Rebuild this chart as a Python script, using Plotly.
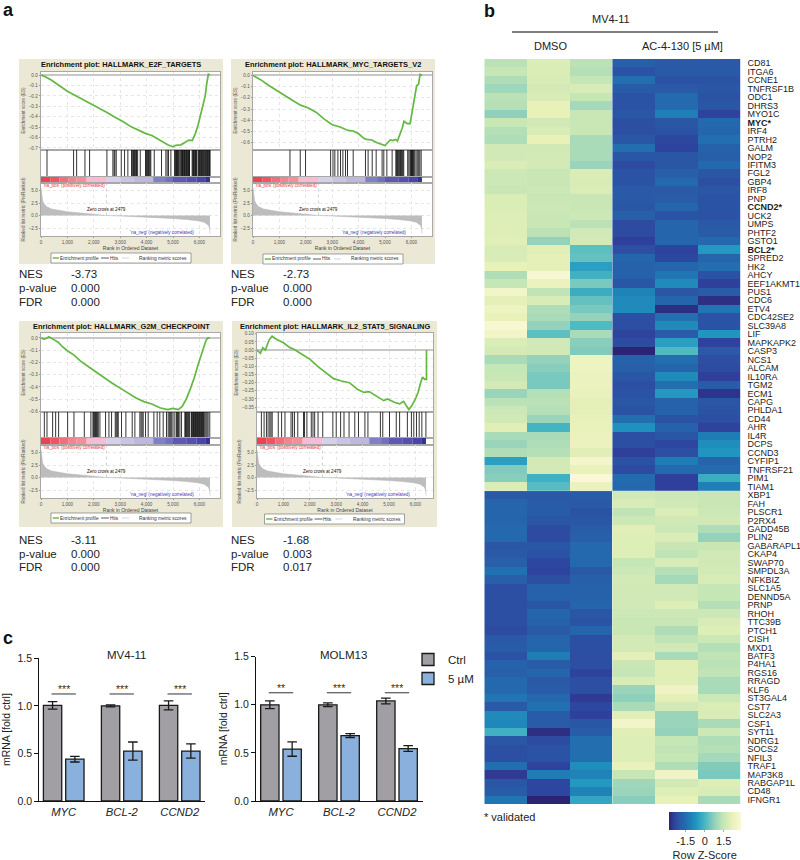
import plotly.graph_objects as go

W, H = 800, 860
FONT = "Liberation Sans"

# ---------- GSEA data ----------
ES_E2F_RANK = [0,200,400,700,1000,1300,1700,2100,2500,2800,3100,3400,3700,3950,4200,4500,4800,5000,5100,5300,5500,5600,5730,5850,5950,6050,6150,6220,6280,6340,6400]
ES_E2F = [0,-0.02,-0.05,-0.10,-0.155,-0.195,-0.25,-0.30,-0.36,-0.405,-0.445,-0.495,-0.53,-0.56,-0.58,-0.625,-0.67,-0.69,-0.675,-0.67,-0.635,-0.625,-0.63,-0.56,-0.48,-0.38,-0.28,-0.2,-0.08,0.01,0.0]
ES_MYC_RANK = [0,300,600,1000,1400,1550,1800,2100,2400,2700,3000,3300,3600,3800,4000,4200,4300,4500,4700,5000,5100,5200,5300,5400,5470,5550,5650,5720,5850,5950,6050,6100,6200,6270,6330,6400]
ES_MYC = [0,-0.04,-0.09,-0.15,-0.215,-0.23,-0.265,-0.29,-0.33,-0.39,-0.44,-0.46,-0.49,-0.495,-0.52,-0.56,-0.57,-0.575,-0.60,-0.625,-0.60,-0.575,-0.58,-0.57,-0.585,-0.54,-0.47,-0.41,-0.43,-0.43,-0.3,-0.2,-0.09,-0.08,0.01,0]
ES_G2M_RANK = [0,100,200,300,450,650,800,1000,1250,1500,1800,2100,2400,2700,3000,3300,3600,3900,4200,4500,4800,5000,5200,5350,5500,5650,5800,5950,6100,6250,6320,6400]
ES_G2M = [0,-0.01,-0.005,0.01,-0.01,-0.035,-0.07,-0.105,-0.14,-0.19,-0.235,-0.28,-0.33,-0.37,-0.41,-0.45,-0.49,-0.52,-0.54,-0.57,-0.585,-0.575,-0.585,-0.56,-0.5,-0.42,-0.33,-0.22,-0.12,-0.02,0,0]
ES_IL2_RANK = [0,130,220,320,450,570,700,850,1000,1250,1400,1700,2000,2300,2600,2900,3200,3500,3800,4050,4250,4500,4800,4950,5200,5400,5550,5750,5850,6000,6100,6200,6270,6350,6420,6421]
ES_IL2 = [0,-0.02,0.015,0.0,0.06,0.085,0.07,0.06,0.045,0.015,0.005,-0.025,-0.055,-0.10,-0.14,-0.175,-0.19,-0.20,-0.24,-0.26,-0.255,-0.28,-0.31,-0.30,-0.32,-0.33,-0.315,-0.365,-0.345,-0.30,-0.26,-0.2,-0.165,-0.18,-0.18,0.0]

HITS_E2F = [227,1235,1350,1665,1840,2497,2723,2770,2800,2850,3040,3165,3290,3430,3455,3490,3510,3545,3570,3600,3620,3660,3760,3960,3985,4010,4040,4070,4100,4130,4160,4290,4565,4730,4780,4830,4920,5060,5085,5110,5135,5160,5180,5205,5240,5290,5315,5340,5360,5385,5410,5435,5460,5485,5510,5535,5560,5585,5610,5625,5725,5750,5775,5800,5825,5850,5875,5895,5950,5975,6000,6025,6050,6075,6100,6125,6150,6180,6205,6235,6260,6285,6310,6335,6360,6385,6405]
HITS_MYC = [1400,1790,1990,2940,3030,3100,3215,3315,3405,3505,3580,3795,4260,4360,4515,4665,4890,4955,5070,5270,5410,5440,5470,5500,5530,5560,5590,5620,5650,5680,5710,5860,5905,5950,5975,6000,6020,6045,6070,6095,6130,6180,6240,6280,6320,6370]
HITS_G2M = [126,227,441,555,668,1009,1248,1640,1890,1967,1995,2030,2065,2100,2135,2170,2232,2446,2573,2673,2812,2850,2890,2926,3050,3215,3455,3556,3745,3790,3830,3871,3960,4060,4275,4400,4500,4628,4754,4817,4860,4900,4950,5000,5070,5132,5170,5210,5260,5320,5448,5475,5510,5545,5580,5610,5637,5700,5725,5750,5775,5800,5825,5850,5875,5900,5925,5950,5975,6000,6025,6050,6075,6100,6125,6150,6175,6210,6250,6290,6330,6393]
HITS_IL2 = [166,268,358,420,485,530,575,805,932,1060,1290,1350,1418,1545,1762,1800,1890,2056,2120,2184,2312,2490,2874,3001,3167,3295,3487,3704,3844,4087,4202,4674,4764,5019,5275,5402,5696,5849,5939,6041,6143,6245,6398]

METRIC_RANK = [0,15,30,60,100,200,400,700,1000,1500,2000,2479,3000,4000,5000,5500,6000,6200,6350,6395,6400]
METRIC = [5.6,4.6,3.8,3.0,2.5,1.8,1.3,1.0,0.75,0.5,0.25,0,-0.1,-0.3,-0.6,-0.8,-1.1,-1.4,-2.0,-2.8,-3.6]
ZERO_CROSS = 2479
BAND_EDGES = [0,350,700,1050,1350,1730,2490,3000,3500,4250,4700,5000,5500,5900,6220,6400]
BAND_COLORS = ["#ec4352","#ee5562","#ef707c","#f1858d","#f38f97","#f5bcd4","#d5d1ea","#c9c4e4","#bfb8de","#8080c6","#7270bd","#5e58b3","#5550ae","#4a44a8","#332f9c"]

# ---------- heatmap data ----------
GENES = ["CD81","ITGA6","CCNE1","TNFRSF1B","ODC1","DHRS3","MYO1C","MYC*","IRF4","PTRH2","GALM","NOP2","IFITM3","FGL2","GBP4","IRF8","PNP","CCND2*","UCK2","UMPS","PHTF2","GSTO1","BCL2*","SPRED2","HK2","AHCY","EEF1AKMT1","PUS1","CDC6","ETV4","CDC42SE2","SLC39A8","LIF","MAPKAPK2","CASP3","NCS1","ALCAM","IL10RA","TGM2","ECM1","CAPG","PHLDA1","CD44","AHR","IL4R","DCPS","CCND3","CYFIP1","TNFRSF21","PIM1","TIAM1","XBP1","FAH","PLSCR1","P2RX4","GADD45B","PLIN2","GABARAPL1","CKAP4","SWAP70","SMPDL3A","NFKBIZ","SLC1A5","DENND5A","PRNP","RHOH","TTC39B","PTCH1","CISH","MXD1","BATF3","P4HA1","RGS16","RRAGD","KLF6","ST3GAL4","CST7","SLC2A3","CSF1","SYT11","NDRG1","SOCS2","NFIL3","TRAF1","MAP3K8","RABGAP1L","CD48","IFNGR1"]
BOLD_GENES = ["MYC*","CCND2*","BCL2*"]
SAMPLES = ["DMSO 1","DMSO 2","DMSO 3","AC-4-130 1","AC-4-130 2","AC-4-130 3"]
ROW_VALUES = [
[0.9,1.3,0.9,-1.3,-1.4,-1.4],[1.0,1.3,0.85,-1.5,-1.4,-1.4],[0.8,1.25,1.0,-1.05,-1.5,-1.5],[0.65,1.2,1.25,-1.35,-1.4,-1.45],
[0.9,1.25,1.0,-1.5,-1.1,-1.5],[0.85,1.5,0.7,-1.5,-1.1,-1.45],[0.5,1.5,1.05,-1.45,-0.8,-1.7],[1.05,1.15,1.05,-1.55,-1.45,-1.15],
[0.85,1.25,1.05,-1.55,-1.5,-1.2],[0.8,1.5,0.75,-1.45,-1.65,-1.05],[1.15,1.15,0.75,-1.05,-1.7,-1.25],[1.15,1.2,0.75,-1.45,-1.45,-1.3],
[1.3,1.2,0.6,-1.6,-1.45,-1.15],[1.1,1.05,1.3,-1.5,-1.3,-1.45],[1.1,1.05,1.25,-1.5,-1.15,-1.55],[1.05,1.1,1.3,-1.4,-1.4,-1.45],
[1.3,1.05,1.05,-1.4,-1.35,-1.5],[1.3,1.1,1.05,-1.45,-1.2,-1.5],[1.35,1.05,1.1,-1.3,-1.5,-1.5],[1.35,1.05,0.9,-1.6,-1.2,-1.4],
[1.35,0.9,1.15,-1.6,-1.2,-1.35],[1.4,0.55,1.2,-1.75,-1.2,-1.15],[1.25,1.4,0.15,-1.55,-1.7,-0.45],[1.25,1.45,0.2,-1.2,-1.65,-1.2],
[1.5,1.45,-0.35,-1.25,-1.2,-1.05],[0.8,1.9,-0.1,-1.25,-0.95,-1.5],[1.0,1.6,0.35,-1.45,-0.65,-1.75],[1.75,0.95,-0.15,-0.75,-1.45,-1.35],
[1.45,1.25,0.2,-0.65,-1.2,-1.9],[1.65,0.8,0.35,-0.65,-1.9,-0.95],[1.5,0.75,0.55,-1.55,-1.0,-1.5],[1.9,0.55,0.05,-1.55,-0.65,-1.5],
[1.75,0.15,0.75,-1.7,-1.35,-0.5],[1.3,1.15,0.45,-1.6,-0.35,-1.7],[1.2,1.15,0.4,-2.0,0.05,-1.4],[0.75,0.55,1.65,-1.25,-1.05,-1.55],
[1.0,0.45,1.65,-1.3,-1.2,-1.6],[1.05,0.35,1.6,-1.45,-0.65,-1.75],[1.2,0.35,1.6,-1.55,-1.05,-1.35],[0.6,0.85,1.55,-1.5,-0.45,-1.85],
[0.9,0.9,1.45,-1.45,-1.25,-1.45],[1.1,0.85,1.45,-1.5,-1.25,-1.5],[1.15,0.6,1.5,-1.05,-1.5,-1.55],[1.4,-0.05,1.55,-0.55,-1.25,-1.7],
[0.75,0.75,1.6,-1.55,-1.45,-0.85],[0.6,0.8,1.6,-1.55,-1.65,-0.6],[0.8,0.85,1.4,-1.75,-1.55,-0.5],[-0.35,1.2,1.8,-1.5,-0.85,-1.2],
[0.4,1.2,1.55,-1.6,-1.15,-1.1],[0.45,-0.1,2.0,-1.1,-1.75,-0.15],[1.3,0.1,1.6,-1.15,-1.75,-0.8],
[-1.4,-1.4,-1.35,1.15,1.1,1.05],[-1.2,-1.35,-1.4,1.25,1.15,1.05],[-1.2,-1.35,-1.5,0.95,1.3,1.1],[-1.2,-1.45,-1.45,1.1,1.15,1.15],
[-1.15,-1.6,-1.35,1.4,1.1,0.8],[-1.15,-1.6,-1.3,1.35,1.3,0.55],[-1.45,-1.45,-1.15,1.35,1.05,1.05],[-1.4,-1.5,-1.15,1.35,0.95,1.15],
[-1.3,-1.65,-1.15,1.0,1.25,1.15],[-1.0,-1.7,-1.4,1.1,0.85,1.2],[-1.3,-1.55,-1.3,1.2,0.7,1.25],[-1.55,-1.25,-1.25,1.15,1.15,1.0],
[-1.55,-1.25,-1.25,1.15,1.15,1.0],[-1.55,-1.45,-1.2,1.15,1.35,0.85],[-1.55,-1.2,-1.45,1.1,1.1,1.1],[-1.55,-1.25,-1.5,1.05,1.05,1.25],
[-1.6,-1.4,-1.2,1.05,0.8,1.35],[-1.4,-1.2,-1.55,1.2,0.95,1.1],[-1.35,-1.2,-1.55,1.2,1.15,0.85],[-1.5,-0.85,-1.55,1.45,0.75,0.95],
[-1.25,-1.35,-1.55,1.05,1.4,0.9],[-1.3,-1.2,-1.7,1.0,1.4,0.95],[-1.15,-1.4,-1.55,1.25,1.4,0.75],[-1.15,-1.35,-1.55,0.6,1.7,0.75],
[-0.95,-1.15,-1.8,0.5,1.45,1.1],[-1.4,-1.0,-1.65,0.75,1.2,1.3],[-0.65,-1.35,-1.75,1.4,0.6,1.25],[-0.7,-1.35,-1.45,1.75,0.6,0.75],
[-0.1,-1.9,-1.35,1.4,0.55,1.1],[-1.45,-1.6,-1.05,1.35,1.0,0.8],[-1.55,-1.5,-1.05,1.35,0.95,0.85],[-1.55,-1.5,-1.05,1.35,1.0,0.7],
[-1.05,-1.7,-0.6,1.55,0.8,0.4],[-1.8,-0.85,-0.75,1.0,1.7,0.35],[-1.45,-1.65,-0.45,0.65,1.15,1.35],[-1.35,-1.65,-0.75,0.6,1.35,1.25],
[-0.95,-2.0,-0.25,0.45,1.5,0.75]]
Z_KEY_PER_UNIT = 1.42   # colour-key units per table unit

# ---------- qPCR data ----------
GENES_QPCR = ["MYC","BCL-2","CCND2"]
MV411_CTRL = [1.005,1.0,1.005]
MV411_CTRL_ERR = [0.04,0.01,0.047]
MV411_5UM = [0.44,0.525,0.525]
MV411_5UM_ERR = [0.03,0.095,0.075]
MOLM13_CTRL = [1.0,1.0,1.04]
MOLM13_CTRL_ERR = [0.04,0.02,0.03]
MOLM13_5UM = [0.54,0.68,0.545]
MOLM13_5UM_ERR = [0.075,0.02,0.03]
MV411_SIG = ["***","***","***"]
MOLM13_SIG = ["**","***","***"]
SIG_LEVEL = 1.125

# ---------- helpers ----------
def px(x): return x / W
def py(y): return 1 - y / H

layout = {}
traces, shapes, annots = [], [], []
n_axes = 0

def pair(left, right, top, bottom, xopts, yopts):
    global n_axes
    n_axes += 1
    s = "" if n_axes == 1 else str(n_axes)
    xb = dict(domain=[px(left), px(right)], anchor="y" + s, automargin=False)
    yb = dict(domain=[py(bottom), py(top)], anchor="x" + s, automargin=False)
    xb.update(xopts); yb.update(yopts)
    layout["xaxis" + s] = xb
    layout["yaxis" + s] = yb
    return "x" + s, "y" + s

def text(x, y, t, size=11, color="#222", anchor="left", bold=False, angle=0):
    annots.append(dict(x=px(x), y=py(y), xref="paper", yref="paper", text=f"<b>{t}</b>" if bold else t,
                       showarrow=False, xanchor=anchor, yanchor="middle", textangle=angle,
                       font=dict(size=size, color=color, family=FONT), borderpad=0, borderwidth=0))

def rect(l, t, r, b, fill, line=None, lw=0):
    shapes.append(dict(type="rect", xref="paper", yref="paper", x0=px(l), x1=px(r), y0=py(b), y1=py(t),
                       fillcolor=fill, line=dict(color=line or fill, width=lw), layer="below"))

def pline(x0, y0, x1, y1, color, w):
    shapes.append(dict(type="line", xref="paper", yref="paper", x0=px(x0), x1=px(x1), y0=py(y0), y1=py(y1),
                       line=dict(color=color, width=w), layer="above"))

# ---------- GSEA panels ----------
TICK = dict(size=4.6, color="#555", family=FONT)
FRAME = dict(showline=True, linecolor="#a8a8a8", linewidth=0.7, mirror=True)
X_TICKS = [0, 1000, 2000, 3000, 4000, 5000, 6000]

def gsea(title, rank, es, hits, box, plot, es_range, es_ticks, es_fmt, ttl_y, legend_y, rows):
    bl, bt, br, bb = box
    pl, pr = plot
    rect(bl, bt, br, bb, "#ebe8d6")
    rect(pl, rows["es"][0], pr, rows["metric"][1], "#ffffff")
    xr = [0, (pr - pl) / 26.4 * 1000]
    text((bl + br) / 2, ttl_y, title, size=7.45, color="#111", anchor="center", bold=True)
    xgrid = dict(range=xr, tickvals=X_TICKS, showticklabels=False, ticks="", gridcolor="#e6e6e6", griddash="dot", gridwidth=0.6, zeroline=False, **FRAME)
    xe, ye = pair(pl, pr, rows["es"][0], rows["es"][1], xgrid,
                  dict(range=es_range, tickvals=es_ticks, tickformat=es_fmt, ticks="outside", ticklen=1.5, tickcolor="#999",
                       tickfont=TICK, gridcolor="#e6e6e6", griddash="dot", gridwidth=0.6, zeroline=True, zerolinecolor="#c8c8c8", zerolinewidth=1.6,
                       title=dict(text="Enrichment score (ES)", font=TICK, standoff=3), **FRAME))
    traces.append(go.Scatter(x=rank, y=es, mode="lines", line=dict(color="#62b840", width=1.7), xaxis=xe, yaxis=ye, showlegend=False, name="Enrichment profile"))
    xh, yh = pair(pl, pr, rows["hits"][0], rows["hits"][1],
                  dict(range=xr, showticklabels=False, ticks="", showgrid=False, zeroline=False, **FRAME),
                  dict(range=[0, 1], showticklabels=False, ticks="", showgrid=False, zeroline=False, **FRAME))
    hx, hy = [], []
    for h in hits:
        hx += [h, h, None]; hy += [0, 1, None]
    traces.append(go.Scatter(x=hx, y=hy, mode="lines", line=dict(color="#000000", width=0.8), xaxis=xh, yaxis=yh, showlegend=False, name="Hits"))
    xb, yb = pair(pl, pr, rows["band"][0], rows["band"][1],
                  dict(range=xr, showticklabels=False, ticks="", showgrid=False, zeroline=False, **FRAME),
                  dict(range=[-0.5, 0.5], showticklabels=False, ticks="", showgrid=False, zeroline=False, **FRAME))
    traces.append(go.Bar(y=[0] * (len(BAND_EDGES) - 1), x=[b - a for a, b in zip(BAND_EDGES[:-1], BAND_EDGES[1:])], base=BAND_EDGES[:-1],
                         orientation="h", width=1, marker=dict(color=BAND_COLORS, line=dict(width=0)), xaxis=xb, yaxis=yb, showlegend=False))
    xm, ym = pair(pl, pr, rows["metric"][0], rows["metric"][1],
                  dict(range=xr, tickvals=X_TICKS, tickformat=",", ticks="outside", ticklen=1.5, tickcolor="#999", tickfont=TICK,
                       gridcolor="#e6e6e6", griddash="dot", gridwidth=0.6, zeroline=False, title=dict(text="Rank in Ordered Dataset", font=dict(size=5, color="#444", family=FONT), standoff=2), **FRAME),
                  dict(range=[-4.1, 6.5], tickvals=[-2.5, 0, 2.5, 5], tickformat=".1f", ticks="outside", ticklen=1.5, tickcolor="#999", tickfont=TICK,
                       gridcolor="#e6e6e6", griddash="dot", gridwidth=0.6, zeroline=False,
                       title=dict(text="Ranked list metric (PreRanked)", font=TICK, standoff=3), **FRAME))
    traces.append(go.Scatter(x=METRIC_RANK, y=METRIC, mode="lines", fill="tozeroy", fillcolor="#bdbdbd", line=dict(color="#b4b4b4", width=0.5), xaxis=xm, yaxis=ym, showlegend=False, name="Ranking metric scores"))
    traces.append(go.Scatter(x=[ZERO_CROSS, ZERO_CROSS], y=[0, 6.5], mode="lines", line=dict(color="#b0b0b0", width=0.6, dash="dot"), xaxis=xm, yaxis=ym, showlegend=False))
    for x, y, t, c, anc in [(0, 6.0, "'na_pos' (positively correlated)", "#e23b3b", "left"),
                            (4580, -3.35, "'na_neg' (negatively correlated)", "#3b3bbf", "center"),
                            (2490, 1.3, "Zero cross at 2479", "#111", "center")]:
        annots.append(dict(x=x, y=y, xref=xm, yref=ym, text=t, showarrow=False, xanchor=anc, yanchor="middle",
                           font=dict(size=4.6, color=c, family=FONT)))
    # legend strip
    cx = (bl + br) / 2
    lt, lb = legend_y
    rect(cx - 70, lt, cx + 70, lb, "#ffffff", "#666666", 0.6)
    my = (lt + lb) / 2
    pline(cx - 68.3, my, cx - 62, my, "#62b840", 1.4)
    text(cx - 61, my, "Enrichment profile", size=4.8, color="#333")
    pline(cx - 20, my, cx - 12, my, "#333333", 0.8)
    text(cx - 11.5, my, "Hits", size=4.8, color="#333")
    pline(cx + 1, my, cx + 8, my, "#cccccc", 0.8)
    text(cx + 18, my, "Ranking metric scores", size=4.8, color="#333")

ROWS_TOP = dict(es=(71.5, 149.5), hits=(149.5, 176.5), band=(176.5, 183), metric=(183, 236))
ROWS_BOT = dict(es=(333, 412), hits=(412, 438), band=(438, 445), metric=(445, 498))

gsea("Enrichment plot: HALLMARK_E2F_TARGETS", ES_E2F_RANK, ES_E2F, HITS_E2F, (19, 59, 223, 264), (41, 220),
     [-0.715, 0.035], [0, -0.1, -0.2, -0.3, -0.4, -0.5, -0.6, -0.7], ".1f", 64, (253, 263), ROWS_TOP)
gsea("Enrichment plot: HALLMARK_MYC_TARGETS_V2", ES_MYC_RANK, ES_MYC, HITS_MYC, (231, 59, 435, 264), (253, 432),
     [-0.66, 0.035], [0, -0.1, -0.2, -0.3, -0.4, -0.5, -0.6], ".1f", 64, (254, 264), ROWS_TOP)
gsea("Enrichment plot: HALLMARK_G2M_CHECKPOINT", ES_G2M_RANK, ES_G2M, HITS_G2M, (19, 321, 223, 527), (41, 220),
     [-0.605, 0.04], [0, -0.1, -0.2, -0.3, -0.4, -0.5, -0.6], ".1f", 326.5, (513, 523), ROWS_BOT)
gsea("Enrichment plot: HALLMARK_IL2_STAT5_SIGNALING", ES_IL2_RANK, ES_IL2, HITS_IL2, (232, 321, 437, 527), (257, 433),
     [-0.38, 0.105], [0.10, 0.05, 0, -0.05, -0.10, -0.15, -0.20, -0.25, -0.30, -0.35], ".2f", 326.5, (514, 524), ROWS_BOT)

# NES tables
STATS_LABELS = ["NES", "p-value", "FDR"]
STATS = [(19, 71, [274, 288, 302], ["-3.73", "0.000", "0.000"]),
         (231, 283, [274, 288, 302], ["-2.73", "0.000", "0.000"]),
         (19, 71, [540, 554, 567], ["-3.11", "0.000", "0.000"]),
         (231, 283, [540, 554, 567], ["-1.68", "0.003", "0.017"])]
for x0, x1, ys, vals in STATS:
    for y, lab, v in zip(ys, STATS_LABELS, vals):
        text(x0, y, lab, size=11.5)
        text(x1, y, v, size=11.5)

# ---------- heatmap ----------
COLORS = [[0, "#2b2472"], [0.0625, "#2f3f9c"], [0.125, "#2b53a5"], [0.25, "#2171b0"], [0.375, "#1f95c0"], [0.5, "#48b7c2"],
          [0.625, "#8fd0bc"], [0.75, "#c5e6b5"], [0.875, "#e8f1b8"], [1, "#fbf8d8"]]
xh, yh = pair(484.3, 740.7, 59, 804,
              dict(range=[-0.5, 5.5], showticklabels=False, ticks="", showgrid=False, zeroline=False),
              dict(range=[len(GENES) - 0.5, -0.5], side="right", tickmode="array", tickvals=list(range(len(GENES))),
                   ticktext=[f"<b>{g}</b>" if g in BOLD_GENES else g for g in GENES],
                   ticks="outside", ticklen=4, tickcolor="rgba(0,0,0,0)", showgrid=False, zeroline=False, showline=False,
                   tickfont=dict(size=9, color="#222", family=FONT)))
traces.append(go.Heatmap(z=[[v * Z_KEY_PER_UNIT for v in row] for row in ROW_VALUES], x=list(range(len(SAMPLES))), y=list(range(len(GENES))),
                         colorscale=COLORS, zmin=-2.84, zmax=2.84, xaxis=xh, yaxis=yh, text=[SAMPLES] * len(GENES),
                         colorbar=dict(orientation="h", x=px(668.7), xanchor="left", y=py(812), yanchor="top", len=72, lenmode="pixels",
                                       thickness=18, thicknessmode="pixels", xpad=0, ypad=0, outlinewidth=0,
                                       tickmode="array", tickvals=[-1.5, 0, 1.5], ticktext=["-1.5", "0", "1.5"], ticks="outside", ticklen=2, tickcolor="#aaa",
                                       tickfont=dict(size=11, color="#222", family=FONT),
                                       title=dict(text="Row Z-Score", side="bottom", font=dict(size=11, color="#222", family=FONT)))))
shapes.append(dict(type="line", xref=xh, yref=yh, x0=2.5, x1=2.5, y0=-0.5, y1=len(GENES) - 0.5, line=dict(color="rgba(235,240,245,0.6)", width=0.8), layer="above"))
shapes.append(dict(type="line", xref=xh, yref=yh, x0=-0.5, x1=5.5, y0=50.5, y1=50.5, line=dict(color="rgba(235,240,245,0.5)", width=0.6), layer="above"))

text(611, 19, "MV4-11", size=11, anchor="center")
pline(512, 32, 718, 32, "#555555", 1.4)
text(550, 46, "DMSO", size=11, anchor="center")
text(682, 46, "AC-4-130 [5 µM]", size=11, anchor="center")
text(484, 817, "* validated", size=11)

# ---------- qPCR bars ----------
AX = dict(showline=True, linecolor="#111", linewidth=1.3, zeroline=False, showgrid=False)
def bars(left, right, x_left, x_right, top, title, tx, ctrl, ctrl_e, trt, trt_e, sig, legend):
    xa, ya = pair(left, right, top, 801,
                  dict(range=[x_left, x_right], tickmode="array", tickvals=[0, 1, 2], ticktext=[f"<i>{g}</i>" for g in GENES_QPCR], ticks="",
                       tickfont=dict(size=11.3, color="#222", family=FONT), **AX),
                  dict(range=[0, 1.5], tickvals=[0, 0.5, 1, 1.5], tickformat=".1f", ticks="outside", ticklen=4, tickwidth=1.3, tickcolor="#111",
                       tickfont=dict(size=10.5, color="#222", family=FONT),
                       title=dict(text="mRNA [fold ctrl]", font=dict(size=10.5, color="#222", family=FONT), standoff=4), **AX))
    for name, v, e, c, sl in [("Ctrl", ctrl, ctrl_e, "#a19fa4", legend), ("5 µM", trt, trt_e, "#8ab1dd", legend)]:
        traces.append(go.Bar(x=[0, 1, 2], y=v, name=name, marker=dict(color=c, line=dict(color="#1a1a1a", width=1.3)),
                             error_y=dict(type="data", array=e, color="#1a1a1a", thickness=1.3, width=4.8),
                             xaxis=xa, yaxis=ya, showlegend=sl, offsetgroup=name))
    for i, s in enumerate(sig):
        traces.append(go.Scatter(x=[i - 0.21, i + 0.21], y=[SIG_LEVEL, SIG_LEVEL], mode="lines", line=dict(color="#333", width=1), xaxis=xa, yaxis=ya, showlegend=False))
        annots.append(dict(x=i, y=SIG_LEVEL, xref=xa, yref=ya, text=s, showarrow=False, xanchor="center", yanchor="bottom", yshift=-3,
                           font=dict(size=10.5, color="#333", family=FONT)))
    text(tx, 655, title, size=11.5, anchor="center")

bars(39.3, 205, -0.421, 2.436, 658.3, "MV4-11", 126, MV411_CTRL, MV411_CTRL_ERR, MV411_5UM, MV411_5UM_ERR, MV411_SIG, True)
bars(256, 422.7, -0.431, 2.443, 656.7, "MOLM13", 343, MOLM13_CTRL, MOLM13_CTRL_ERR, MOLM13_5UM, MOLM13_5UM_ERR, MOLM13_SIG, False)

# panel letters
text(3, 10.5, "a", size=18, color="#111", bold=True)
text(484, 11, "b", size=18, color="#111", bold=True)
text(3, 638, "c", size=18, color="#111", bold=True)

fig = go.Figure(data=traces)
fig.update_layout(width=W, height=H, margin=dict(l=0, r=0, t=0, b=0, autoexpand=False), paper_bgcolor="white", plot_bgcolor="white",
                  barmode="group", bargap=0.231, bargroupgap=0.178, shapes=shapes, annotations=annots,
                  font=dict(family=FONT),
                  legend=dict(x=px(408), y=py(645), xanchor="left", yanchor="top", bgcolor="rgba(0,0,0,0)", borderwidth=0,
                              font=dict(size=11.5, color="#222", family=FONT), itemclick=False, itemdoubleclick=False, tracegroupgap=0),
                  **layout)
fig.write_html("out.html", config=dict(displayModeBar=False), post_script="document.body.style.margin='0';")
